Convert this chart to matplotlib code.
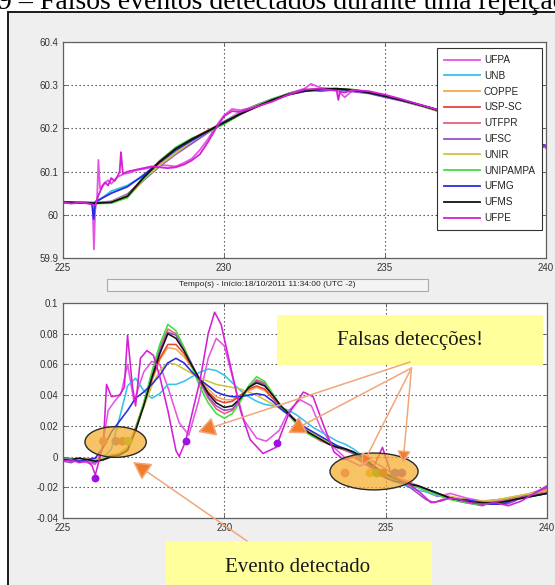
import matplotlib
matplotlib.use('Agg')
import matplotlib.pyplot as plt
from matplotlib.patches import Rectangle, Ellipse, FancyArrowPatch

plt.rcParams['font.family'] = ['Liberation Sans', 'DejaVu Sans']
plt.rcParams['font.size'] = 7

# ---------------- data ----------------
names = ['UFPA', 'UNB', 'COPPE', 'USP-SC', 'UTFPR', 'UFSC', 'UNIR',
         'UNIPAMPA', 'UFMG', 'UFMS', 'UFPE']
colors = ['#e455e4', '#35c3ec', '#f4a94e', '#e5433c', '#e2637c', '#9a4fc6',
          '#cfc43c', '#3fdf3f', '#2b2be0', '#111111', '#d41fd4']

xticks = [225, 230, 235, 240]
xlabels = ['225', '230', '235', '240']
top_yticks = [59.9, 60.0, 60.1, 60.2, 60.3, 60.4]
top_ylabels = ['59.9', '60', '60.1', '60.2', '60.3', '60.4']
bot_yticks = [-0.04, -0.02, 0.0, 0.02, 0.04, 0.06, 0.08, 0.1]
bot_ylabels = ['-0.04', '-0.02', '0', '0.02', '0.04', '0.06', '0.08', '0.1']

# top panel: frequency (Hz), common 0.5 s grid
t_top = [225.0, 225.5, 226.0, 226.5, 227.0, 227.5, 228.0, 228.5, 229.0, 229.5,
         230.0, 230.5, 231.0, 231.5, 232.0, 232.5, 233.0, 233.5, 234.0, 234.5,
         235.0, 235.5, 236.0, 236.5, 237.0, 237.5, 238.0, 238.5, 239.0, 239.5,
         240.0]
top_unb = [60.028, 60.028, 60.027, 60.055, 60.068, 60.090, 60.117, 60.145, 60.170, 60.193,
           60.216, 60.236, 60.252, 60.266, 60.278, 60.286, 60.290, 60.291, 60.289, 60.283,
           60.275, 60.266, 60.256, 60.245, 60.233, 60.220, 60.207, 60.195, 60.183, 60.171,
           60.160]
top_coppe = [60.029, 60.028, 60.027, 60.028, 60.040, 60.080, 60.120, 60.152, 60.176, 60.196,
             60.214, 60.234, 60.250, 60.266, 60.279, 60.287, 60.291, 60.291, 60.288, 60.282,
             60.274, 60.265, 60.255, 60.244, 60.232, 60.219, 60.206, 60.193, 60.181, 60.169,
             60.157]
top_uspsc = [60.028, 60.029, 60.026, 60.030, 60.045, 60.085, 60.120, 60.150, 60.174, 60.195,
             60.214, 60.233, 60.249, 60.265, 60.278, 60.286, 60.290, 60.291, 60.289, 60.283,
             60.275, 60.266, 60.256, 60.246, 60.234, 60.221, 60.208, 60.195, 60.183, 60.171,
             60.159]
top_utfpr = [60.030, 60.027, 60.028, 60.029, 60.044, 60.087, 60.125, 60.155, 60.176, 60.193,
             60.211, 60.232, 60.251, 60.267, 60.280, 60.288, 60.292, 60.292, 60.289, 60.283,
             60.275, 60.266, 60.256, 60.245, 60.232, 60.219, 60.206, 60.194, 60.182, 60.170,
             60.158]
top_ufsc = [60.027, 60.030, 60.028, 60.031, 60.048, 60.080, 60.112, 60.140, 60.165, 60.190,
            60.215, 60.238, 60.254, 60.268, 60.280, 60.290, 60.286, 60.290, 60.285, 60.281,
            60.272, 60.264, 60.254, 60.246, 60.232, 60.221, 60.205, 60.193, 60.181, 60.171,
            60.155]
top_unir = [60.029, 60.028, 60.028, 60.030, 60.045, 60.082, 60.115, 60.143, 60.170, 60.194,
            60.216, 60.236, 60.252, 60.267, 60.279, 60.287, 60.291, 60.291, 60.288, 60.282,
            60.274, 60.265, 60.255, 60.244, 60.232, 60.219, 60.206, 60.193, 60.181, 60.169,
            60.157]
top_unipampa = [60.027, 60.029, 60.026, 60.027, 60.040, 60.083, 60.124, 60.156, 60.177, 60.192,
                60.210, 60.232, 60.252, 60.268, 60.280, 60.288, 60.292, 60.291, 60.290, 60.284,
                60.276, 60.265, 60.255, 60.244, 60.231, 60.219, 60.206, 60.193, 60.181, 60.169,
                60.157]
top_ufms = [60.029, 60.028, 60.027, 60.029, 60.043, 60.086, 60.123, 60.153, 60.175, 60.194,
            60.213, 60.233, 60.250, 60.266, 60.279, 60.287, 60.291, 60.292, 60.289, 60.283,
            60.275, 60.266, 60.256, 60.245, 60.233, 60.220, 60.207, 60.194, 60.182, 60.170,
            60.158]

# series with spikes have their own time stamps
t_top_ufpa = [225.0, 225.25, 225.5, 225.75, 225.92, 225.96, 226.0, 226.06, 226.1, 226.15,
              226.25, 226.4, 226.5, 226.7, 226.9, 227.1, 227.3, 227.5, 227.75, 228.0,
              228.25, 228.5, 228.75, 229.0, 229.25, 229.5, 229.75, 230.0, 230.25, 230.5,
              230.75, 231.0, 231.5, 232.0, 232.5, 232.7, 233.0, 233.5, 233.75, 234.0,
              234.5, 235.0, 235.5, 236.0, 236.5, 237.0, 237.5, 238.0, 238.5, 239.0,
              239.5, 240.0]
top_ufpa = [60.031, 60.027, 60.030, 60.026, 60.025, 59.920, 60.010, 60.040, 60.127, 60.060,
            60.070, 60.080, 60.072, 60.088, 60.095, 60.098, 60.104, 60.106, 60.110, 60.115,
            60.114, 60.112, 60.120, 60.130, 60.150, 60.175, 60.205, 60.230, 60.245, 60.242,
            60.246, 60.252, 60.266, 60.281, 60.292, 60.303, 60.294, 60.290, 60.272, 60.288,
            60.285, 60.276, 60.266, 60.255, 60.243, 60.232, 60.218, 60.205, 60.192, 60.180,
            60.168, 60.156]
t_top_ufpe = [225.0, 225.25, 225.5, 225.75, 226.0, 226.1, 226.2, 226.3, 226.4, 226.5,
              226.6, 226.7, 226.76, 226.8, 226.86, 227.0, 227.25, 227.5, 227.75, 228.0,
              228.25, 228.5, 228.75, 229.0, 229.25, 229.5, 229.75, 230.0, 230.25, 230.5,
              230.75, 231.0, 231.5, 232.0, 232.5, 233.0, 233.5, 233.55, 233.6, 233.75,
              234.0, 234.5, 235.0, 235.5, 236.0, 236.5, 237.0, 237.5, 238.0, 238.5,
              239.0, 239.5, 240.0]
top_ufpe = [60.029, 60.026, 60.028, 60.027, 60.022, 60.045, 60.062, 60.075, 60.068, 60.085,
            60.078, 60.090, 60.100, 60.145, 60.095, 60.100, 60.104, 60.108, 60.112, 60.110,
            60.108, 60.110, 60.116, 60.126, 60.140, 60.168, 60.200, 60.228, 60.240, 60.238,
            60.244, 60.250, 60.262, 60.278, 60.290, 60.292, 60.287, 60.266, 60.285, 60.283,
            60.289, 60.286, 60.278, 60.268, 60.257, 60.246, 60.233, 60.221, 60.207, 60.195,
            60.182, 60.170, 60.158]
t_top_ufmg = [225.0, 225.5, 225.75, 225.9, 225.95, 226.0, 226.25, 226.5, 227.0, 227.5,
              228.0, 228.5, 229.0, 229.5, 230.0, 230.5, 231.0, 231.5, 232.0, 232.5,
              233.0, 233.5, 234.0, 234.5, 235.0, 235.5, 236.0, 236.5, 237.0, 237.5,
              238.0, 238.5, 239.0, 239.5, 240.0]
top_ufmg = [60.030, 60.027, 60.028, 60.026, 59.990, 60.030, 60.040, 60.050, 60.065, 60.092,
            60.122, 60.150, 60.172, 60.193, 60.215, 60.234, 60.250, 60.265, 60.278, 60.286,
            60.290, 60.291, 60.288, 60.282, 60.274, 60.265, 60.256, 60.246, 60.234, 60.221,
            60.208, 60.195, 60.183, 60.171, 60.160]

# bottom panel: rate of change (Hz/s), common 0.25 s grid
t_bot = [225.0, 225.25, 225.5, 225.75, 226.0, 226.25, 226.5, 226.75, 227.0, 227.25,
         227.5, 227.75, 228.0, 228.25, 228.5, 228.75, 229.0, 229.25, 229.5, 229.75,
         230.0, 230.25, 230.5, 230.75, 231.0, 231.25, 231.5, 231.75, 232.0, 232.25,
         232.5, 232.75, 233.0, 233.25, 233.5, 233.75, 234.0, 234.25, 234.5, 234.75,
         235.0, 235.25, 235.5, 235.75, 236.0, 236.25, 236.5, 236.75, 237.0, 237.25,
         237.5, 237.75, 238.0, 238.25, 238.5, 238.75, 239.0, 239.25, 239.5, 239.75,
         240.0]
bot_unb = [-0.002, -0.001, -0.002, -0.002, -0.003, -0.001, 0.005, 0.025, 0.046, 0.051,
           0.043, 0.038, 0.041, 0.047, 0.047, 0.049, 0.052, 0.055, 0.057, 0.056,
           0.053, 0.048, 0.043, 0.039, 0.036, 0.034, 0.033, 0.032, 0.030, 0.027,
           0.023, 0.019, 0.016, 0.013, 0.010, 0.008, 0.005, 0.001, -0.004, -0.009,
           -0.013, -0.016, -0.018, -0.020, -0.022, -0.023, -0.025, -0.026, -0.027, -0.028,
           -0.029, -0.030, -0.030, -0.030, -0.029, -0.028, -0.027, -0.026, -0.025, -0.024,
           -0.023]
bot_coppe = [-0.002, -0.002, -0.002, -0.001, -0.002, -0.002, 0.000, 0.001, 0.005, 0.018,
             0.033, 0.049, 0.063, 0.071, 0.070, 0.065, 0.058, 0.050, 0.044, 0.039,
             0.037, 0.037, 0.040, 0.043, 0.045, 0.043, 0.038, 0.033, 0.028, 0.023,
             0.019, 0.015, 0.012, 0.009, 0.007, 0.005, 0.002, -0.001, -0.004, -0.008,
             -0.011, -0.013, -0.015, -0.017, -0.019, -0.021, -0.023, -0.025, -0.026, -0.027,
             -0.028, -0.029, -0.029, -0.029, -0.028, -0.027, -0.026, -0.025, -0.024, -0.023,
             -0.022]
bot_uspsc = [-0.002, -0.003, -0.002, -0.002, -0.003, -0.002, 0.000, 0.002, 0.006, 0.019,
             0.034, 0.050, 0.064, 0.073, 0.073, 0.067, 0.058, 0.049, 0.042, 0.037,
             0.035, 0.036, 0.040, 0.044, 0.046, 0.044, 0.038, 0.032, 0.027, 0.022,
             0.018, 0.014, 0.011, 0.008, 0.006, 0.004, 0.002, -0.001, -0.005, -0.009,
             -0.012, -0.014, -0.016, -0.018, -0.020, -0.022, -0.024, -0.026, -0.027, -0.028,
             -0.029, -0.030, -0.031, -0.030, -0.029, -0.028, -0.027, -0.026, -0.025, -0.024,
             -0.023]
bot_utfpr = [-0.002, -0.002, -0.003, -0.002, -0.002, -0.001, 0.001, 0.002, 0.005, 0.018,
             0.034, 0.053, 0.071, 0.083, 0.080, 0.071, 0.059, 0.048, 0.038, 0.031,
             0.028, 0.030, 0.037, 0.045, 0.050, 0.048, 0.040, 0.033, 0.027, 0.021,
             0.017, 0.013, 0.010, 0.008, 0.006, 0.004, 0.002, -0.002, -0.006, -0.009,
             -0.012, -0.014, -0.016, -0.018, -0.020, -0.022, -0.024, -0.026, -0.027, -0.029,
             -0.030, -0.030, -0.030, -0.030, -0.029, -0.028, -0.027, -0.026, -0.025, -0.024,
             -0.023]
bot_ufsc = [-0.003, -0.004, -0.002, -0.003, -0.004, -0.002, 0.000, 0.002, 0.005, 0.017,
            0.033, 0.052, 0.069, 0.081, 0.079, 0.070, 0.060, 0.049, 0.039, 0.033,
            0.030, 0.031, 0.037, 0.045, 0.049, 0.047, 0.040, 0.033, 0.027, 0.022,
            0.018, 0.014, 0.011, 0.008, 0.006, 0.005, 0.002, -0.002, -0.006, -0.010,
            -0.013, -0.015, -0.017, -0.020, -0.024, -0.028, -0.030, -0.028, -0.027, -0.029,
            -0.030, -0.031, -0.032, -0.030, -0.029, -0.031, -0.029, -0.026, -0.024, -0.022,
            -0.019]
bot_unir = [-0.002, -0.002, -0.002, -0.002, -0.002, -0.001, 0.000, 0.002, 0.006, 0.018,
            0.032, 0.046, 0.056, 0.061, 0.060, 0.057, 0.054, 0.051, 0.049, 0.047,
            0.046, 0.045, 0.044, 0.042, 0.040, 0.037, 0.034, 0.031, 0.027, 0.023,
            0.019, 0.015, 0.012, 0.009, 0.007, 0.005, 0.003, 0.000, -0.004, -0.008,
            -0.011, -0.014, -0.016, -0.018, -0.020, -0.022, -0.024, -0.025, -0.026, -0.027,
            -0.028, -0.029, -0.029, -0.029, -0.028, -0.027, -0.026, -0.025, -0.024, -0.023,
            -0.022]
bot_unipampa = [-0.003, -0.002, -0.002, -0.003, -0.003, -0.002, 0.000, 0.001, 0.004, 0.018,
                0.035, 0.055, 0.073, 0.086, 0.082, 0.071, 0.058, 0.045, 0.035, 0.028,
                0.025, 0.028, 0.036, 0.046, 0.052, 0.049, 0.041, 0.033, 0.027, 0.021,
                0.016, 0.013, 0.011, 0.008, 0.006, 0.005, 0.003, -0.001, -0.005, -0.009,
                -0.012, -0.015, -0.017, -0.019, -0.020, -0.022, -0.024, -0.026, -0.028, -0.029,
                -0.030, -0.031, -0.031, -0.031, -0.030, -0.029, -0.028, -0.027, -0.026, -0.025,
                -0.024]
bot_ufmg = [-0.002, -0.002, -0.003, -0.002, -0.001, 0.006, 0.016, 0.023, 0.030, 0.038,
            0.042, 0.047, 0.053, 0.061, 0.064, 0.061, 0.055, 0.050, 0.046, 0.042,
            0.040, 0.039, 0.039, 0.040, 0.041, 0.040, 0.036, 0.031, 0.027, 0.023,
            0.019, 0.016, 0.013, 0.010, 0.007, 0.005, 0.003, 0.000, -0.005, -0.010,
            -0.014, -0.016, -0.017, -0.018, -0.019, -0.021, -0.023, -0.025, -0.027, -0.028,
            -0.028, -0.029, -0.030, -0.031, -0.031, -0.030, -0.028, -0.027, -0.026, -0.025,
            -0.024]
bot_ufms = [-0.002, -0.002, -0.001, -0.002, -0.003, -0.002, 0.000, 0.001, 0.004, 0.017,
            0.033, 0.051, 0.067, 0.080, 0.077, 0.069, 0.059, 0.050, 0.041, 0.035,
            0.032, 0.033, 0.038, 0.045, 0.048, 0.046, 0.040, 0.033, 0.028, 0.022,
            0.017, 0.014, 0.011, 0.008, 0.006, 0.005, 0.003, 0.000, -0.004, -0.008,
            -0.011, -0.014, -0.016, -0.018, -0.019, -0.021, -0.023, -0.025, -0.027, -0.028,
            -0.029, -0.030, -0.030, -0.030, -0.030, -0.029, -0.028, -0.027, -0.026, -0.025,
            -0.024]

t_bot_ufpa = [225.0, 225.25, 225.5, 225.75, 226.0, 226.2, 226.4, 226.6, 226.8, 227.0,
              227.2, 227.5, 227.75, 228.0, 228.3, 228.6, 228.9, 229.2, 229.5, 229.75,
              230.0, 230.3, 230.6, 231.0, 231.3, 231.7, 232.0, 232.35, 232.7, 233.0,
              233.4, 233.8, 234.2, 234.6, 235.0, 235.4, 235.8, 236.2, 236.6, 237.0,
              237.5, 238.0, 238.5, 239.0, 239.5, 240.0]
bot_ufpa = [-0.002, -0.003, -0.002, -0.004, -0.005, 0.004, 0.030, 0.036, 0.041, 0.060,
            0.036, 0.055, 0.062, 0.060, 0.042, 0.022, 0.014, 0.036, 0.064, 0.077,
            0.072, 0.048, 0.024, 0.012, 0.010, 0.017, 0.030, 0.037, 0.033, 0.018,
            0.006, -0.002, -0.006, -0.003, -0.008, -0.014, -0.017, -0.022, -0.026, -0.024,
            -0.027, -0.029, -0.028, -0.027, -0.025, -0.021]
t_bot_ufpe = [225.0, 225.25, 225.5, 225.75, 225.9, 226.0, 226.1, 226.25, 226.35, 226.5,
              226.75, 226.9, 227.0, 227.15, 227.25, 227.4, 227.6, 227.8, 228.0, 228.25,
              228.5, 228.6, 228.8, 229.0, 229.25, 229.5, 229.7, 229.9, 230.2, 230.5,
              230.8, 231.2, 231.6, 232.0, 232.45, 232.75, 233.1, 233.4, 233.7, 234.0,
              234.3, 234.6, 234.9, 235.2, 235.5, 235.8, 236.1, 236.4, 236.7, 237.0,
              237.3, 237.6, 238.0, 238.4, 238.8, 239.2, 239.6, 240.0]
bot_ufpe = [-0.003, -0.002, -0.004, -0.003, -0.006, -0.012, -0.004, 0.008, 0.047, 0.039,
            0.040, 0.045, 0.079, 0.046, 0.033, 0.064, 0.069, 0.066, 0.052, 0.030,
            0.004, 0.000, 0.010, 0.028, 0.050, 0.080, 0.094, 0.086, 0.058, 0.030,
            0.011, 0.002, 0.006, 0.028, 0.042, 0.039, 0.019, 0.003, -0.002, 0.000,
            -0.004, -0.008, 0.006, -0.013, -0.016, -0.019, -0.024, -0.030, -0.029, -0.027,
            -0.028, -0.030, -0.031, -0.030, -0.032, -0.029, -0.024, -0.020]

# detection markers
false_x = [225.99, 228.81, 231.63]
false_y = [-0.0138, 0.0101, 0.0088]
left_det_x = [226.25, 226.64, 226.85, 227.02]
left_det_y = [0.010, 0.010, 0.010, 0.010]
left_det_c = ['#d86f7a', '#9a6cc0', '#c4703e', '#7cc23a']
right_det_x = [233.74, 234.51, 234.72, 234.92, 235.29, 235.50]
right_det_y = [-0.0107, -0.0107, -0.0107, -0.0107, -0.0107, -0.0107]
right_det_c = ['#e4688e', '#cdbf2c', '#63a82c', '#a35a2c', '#6a5ad0', '#9a45c0']

top_series = [(t_top_ufpa, top_ufpa), (t_top, top_unb), (t_top, top_coppe),
              (t_top, top_uspsc), (t_top, top_utfpr), (t_top, top_ufsc),
              (t_top, top_unir), (t_top, top_unipampa), (t_top_ufmg, top_ufmg),
              (t_top, top_ufms), (t_top_ufpe, top_ufpe)]
bot_series = [(t_bot_ufpa, bot_ufpa), (t_bot, bot_unb), (t_bot, bot_coppe),
              (t_bot, bot_uspsc), (t_bot, bot_utfpr), (t_bot, bot_ufsc),
              (t_bot, bot_unir), (t_bot, bot_unipampa), (t_bot, bot_ufmg),
              (t_bot, bot_ufms), (t_bot_ufpe, bot_ufpe)]

# ---------------- layout helpers (pixel -> figure fraction) ----------------
W, H = 555, 585


def fx(x):
    return x / W


def fy(y):
    return 1 - y / H


def px_rect(x0, y0, x1, y1):
    return [fx(x0), fy(y1), (x1 - x0) / W, (y1 - y0) / H]


def style_axes(ax, yticks, ylabels):
    ax.set_xlim(225, 240)
    ax.set_xticks(xticks)
    ax.set_xticklabels(xlabels)
    ax.set_yticks(yticks)
    ax.set_yticklabels(ylabels)
    ax.set_ylim(yticks[0], yticks[-1])
    ax.tick_params(direction='in', length=3, width=0.6, top=True, right=True,
                   colors='#555555', labelcolor='#333333', labelsize=7, pad=3.5)
    ax.grid(True, linestyle=(0, (1.2, 2.4)), color='#404040', lw=0.8)
    for s in ax.spines.values():
        s.set_color('#606060')
        s.set_linewidth(0.9)


fig = plt.figure(figsize=(5.55, 5.85), dpi=100)
fig.patch.set_facecolor('white')

# grey MATLAB figure window with dark frame
fig.add_artist(Rectangle((fx(8), fy(600)), (570 - 8) / W, (600 - 11.5) / H,
                         transform=fig.transFigure, facecolor='#efefef',
                         edgecolor='#1a1a1a', lw=1.4, zorder=-5))
fig.text(fx(-2), fy(9), '9 – Falsos eventos detectados durante uma rejeição',
         family='Liberation Serif', fontsize=20, ha='left', va='baseline')

# ---------------- top panel ----------------
ax1 = fig.add_axes(px_rect(63, 42, 546, 258))
for (t, v), name, c in zip(top_series, names, colors):
    ax1.plot(t, v, color=c, lw=1.3, label=name)
style_axes(ax1, top_yticks, top_ylabels)
leg = ax1.legend(loc='upper right', bbox_to_anchor=(fx(542), fy(48)),
                 bbox_transform=fig.transFigure, fontsize=7.2, borderaxespad=0,
                 labelspacing=0.58, handlelength=3.6, handletextpad=0.4,
                 borderpad=0.7, fancybox=False, framealpha=1)
leg.get_frame().set_edgecolor('#333333')
leg.get_frame().set_linewidth(0.8)
for txt in leg.get_texts():
    txt.set_color('#222222')

# x label box
fig.add_artist(Rectangle((fx(107), fy(291)), (428 - 107) / W, 12 / H,
                         transform=fig.transFigure, facecolor='#f4f4f4',
                         edgecolor='#a8a8a8', lw=0.8))
fig.text(fx(267), fy(285), 'Tempo(s) - Início:18/10/2011 11:34:00 (UTC -2)',
         fontsize=6, ha='center', va='center', color='#222222')

# ---------------- bottom panel ----------------
ax2 = fig.add_axes(px_rect(63, 303, 547, 518))
for (t, v), name, c in zip(bot_series, names, colors):
    ax2.plot(t, v, color=c, lw=1.15, label=name)
style_axes(ax2, bot_yticks, bot_ylabels)

ax2.scatter(left_det_x, left_det_y, s=40, c=left_det_c, zorder=4, lw=0)
ax2.scatter(right_det_x, right_det_y, s=40, c=right_det_c, zorder=4, lw=0)
ax2.add_patch(Ellipse((226.63, 0.0095), 1.9, 0.020, facecolor='#f5ad2a',
                      alpha=0.72, edgecolor='none', zorder=5))
ax2.add_patch(Ellipse((226.63, 0.0095), 1.9, 0.020, facecolor='none',
                      edgecolor='#2a2a2a', lw=1.0, zorder=5))
ax2.add_patch(Ellipse((234.64, -0.0097), 2.73, 0.024, facecolor='#f5ad2a',
                      alpha=0.72, edgecolor='none', zorder=5))
ax2.add_patch(Ellipse((234.64, -0.0097), 2.73, 0.024, facecolor='none',
                      edgecolor='#2a2a2a', lw=1.0, zorder=5))
ax2.scatter(false_x, false_y, s=32, c='#a010e0', zorder=6, lw=0)

# ---------------- callouts ----------------
fig.add_artist(Rectangle((fx(277), fy(365)), (543 - 277) / W, 50 / H,
                         transform=fig.transFigure, facecolor='#ffff9c',
                         edgecolor='none', zorder=2))
fig.text(fx(410), fy(341), 'Falsas detecções!', family='Liberation Serif',
         fontsize=15, ha='center', va='center', color='#1a1a1a', zorder=3)
fig.add_artist(Rectangle((fx(166), fy(600)), (432 - 166) / W, (600 - 541) / H,
                         transform=fig.transFigure, facecolor='#ffff9c',
                         edgecolor='none', zorder=2))
fig.text(fx(298), fy(567), 'Evento detectado', family='Liberation Serif',
         fontsize=15, ha='center', va='center', color='#1a1a1a', zorder=3)


def arrow(x0, y0, x1, y1, size=12):
    fig.add_artist(FancyArrowPatch((fx(x0), fy(y0)), (fx(x1), fy(y1)),
                                   transform=fig.transFigure,
                                   arrowstyle='-|>,head_length=0.9,head_width=0.5',
                                   mutation_scale=size, shrinkA=0, shrinkB=0,
                                   edgecolor='#f2a679', facecolor='#f07c2c',
                                   lw=1.1, zorder=4))


arrow(247, 541, 133, 462)
arrow(410, 362, 198, 432)
arrow(411.5, 368, 288, 433)
arrow(411.5, 368, 362, 466, size=8)
arrow(411.5, 368, 403, 463, size=8)

fig.savefig('out.png', dpi=100)
